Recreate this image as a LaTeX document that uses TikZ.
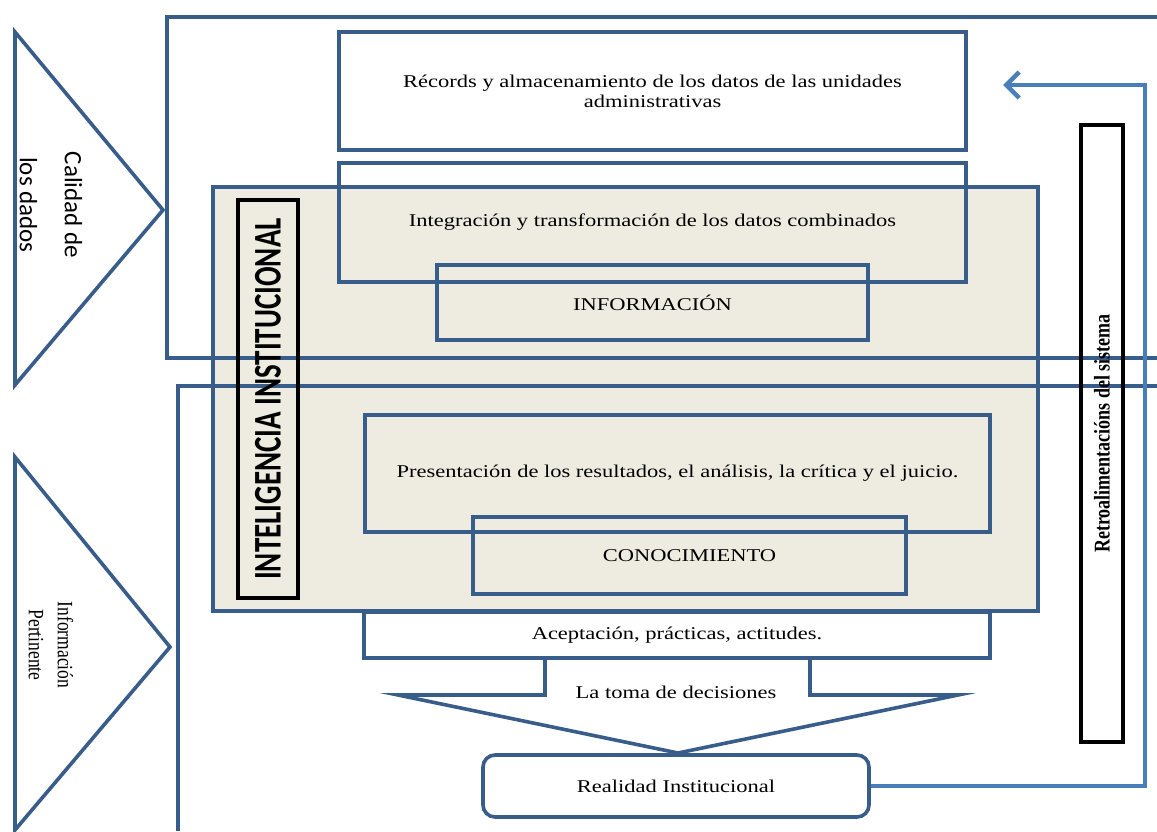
\documentclass[tikz,border=0pt]{standalone}
\usepackage{fontspec}
\usepackage{graphicx}
\setmainfont{Liberation Serif}
\newfontfamily\calibri{Carlito}
\usetikzlibrary{arrows.meta}
\newcommand{\widetxt}[1]{\scalebox{1.25}[1]{#1}}
\newcommand{\talltxt}[2][1.25]{\scalebox{1}[#1]{#2}}
\definecolor{boxblue}{RGB}{56,93,138}
\definecolor{arrowblue}{RGB}{74,126,187}
\definecolor{tanfill}{RGB}{238,236,225}
\tikzset{
	frame/.style={draw=boxblue, line width=3.6pt},
	bluebox/.style={frame, inner sep=0pt, align=center, font=\fontsize{18}{20}\selectfont},
	blackbox/.style={draw=black, line width=4pt, inner sep=0pt},
}

\begin{document}
\begin{tikzpicture}[x=1pt, y=-1pt]
		\useasboundingbox (0,0) rectangle (1157,831);
		
		% 1. fondo gris (inteligencia institucional)
		\node[bluebox, fill=tanfill, minimum width=825pt, minimum height=424pt] (intel) at (625.5,399) {};
		
		% 2. marcos abiertos a la derecha
		\draw[frame] (1157,17) -- (167,17) -- (167,358) -- (1157,358);
		\draw[frame] (1157,386) -- (178,386) -- (178,831);
		
		% 3. triangulos de la izquierda
		\draw[frame, fill=white] (15,32) -- (163,210) -- (15,385) -- cycle;
		\draw[frame, fill=white] (15,457) -- (170,647) -- (15,830) -- cycle;
		\node[rotate=-90, align=center, font=\calibri\fontsize{25}{45}\selectfont] (calidad) at (51,205) {Calidad de\\los dados};
		\node[rotate=-90, align=center, font=\fontsize{17.5}{29}\selectfont] (pertinente) at (51,645) {\talltxt{Información}\\\talltxt{Pertinente}};
		
		% 4. cajas de datos
		\node[bluebox, minimum width=627pt, minimum height=118pt] (records) at (652.5,91) {\widetxt{Récords y almacenamiento de los datos de las unidades}\\\widetxt{administrativas}};
		\node[bluebox, minimum width=627pt, minimum height=119pt] (integ) at (652.5,222.5) {\widetxt{Integración y transformación de los datos combinados}};
		\node[bluebox, minimum width=431pt, minimum height=75pt] (info) at (652.5,302.5) {\widetxt{INFORMACIÓN}};
		\node[bluebox, minimum width=625pt, minimum height=117pt] (present) at (677.5,473.5) {\widetxt{Presentación de los resultados, el análisis, la crítica y el juicio.}};
		\node[bluebox, minimum width=433pt, minimum height=77pt] (conoc) at (689.5,555.5) {\widetxt{CONOCIMIENTO}};
		
		% 5. decisiones y realidad
		\draw[frame, fill=white] (545,658) -- (545,695) -- (398,695) -- (678,753) -- (958,695) -- (810,695) -- (810,658);
		\node[bluebox, fill=white, minimum width=626pt, minimum height=46pt] (acept) at (677,635) {\widetxt{Aceptación, prácticas, actitudes.}};
		\node[font=\fontsize{18}{20}\selectfont] (toma) at (676,692) {\widetxt{La toma de decisiones}};
		\node[bluebox, fill=white, rounded corners=12pt, minimum width=386pt, minimum height=62pt] (realidad) at (676,786) {\widetxt{Realidad Institucional}};
		
		% 6. etiquetas verticales
		\node[blackbox, rotate=90, minimum width=398pt, minimum height=60pt, font=\calibri\bfseries\fontsize{29}{30}\selectfont] (intellabel) at (268,399) {\talltxt[1.35]{INTELIGENCIA INSTITUCIONAL}};
		\node[blackbox, rotate=90, minimum width=617pt, minimum height=42pt, font=\bfseries\fontsize{18}{20}\selectfont] (retro) at (1102,433.5) {\talltxt{Retroalimentacións del sistema}};
		
		% 7. retroalimentacion
		\coordinate (fbcorner) at (1145,85);
		\coordinate (fbend) at (1003,85);
		\draw[arrowblue, line width=4.5pt, -{Straight Barb[length=13pt, width=26pt]}] (realidad.east) -| (fbcorner) -- (fbend);
\end{tikzpicture}
\end{document}
